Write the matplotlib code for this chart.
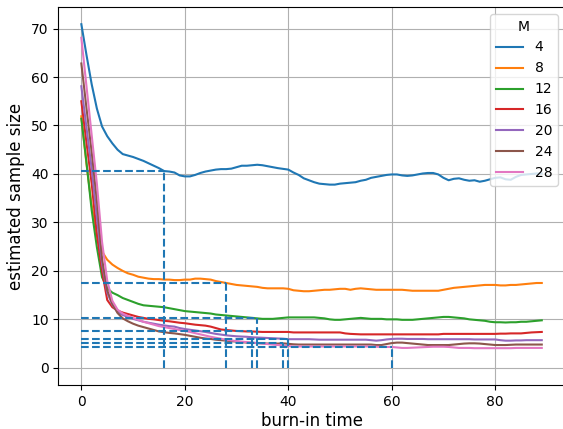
import matplotlib
matplotlib.use("Agg")
import matplotlib.pyplot as plt

# estimated sample size vs. burn-in time, one curve per M
burn_in = list(range(90))
M_values = [4, 8, 12, 16, 20, 24, 28]

ess_m4 = [70.9, 64.5, 58.5, 53.5, 49.8, 47.8, 46.3, 45.0, 44.1, 43.8,
          43.5, 43.1, 42.7, 42.2, 41.7, 41.2, 40.6, 40.5, 40.3, 39.7,
          39.5, 39.5, 39.8, 40.2, 40.5, 40.7, 40.9, 41.0, 41.0, 41.1,
          41.4, 41.7, 41.7, 41.8, 41.9, 41.8, 41.6, 41.4, 41.2, 41.05,
          40.9, 40.3, 39.8, 39.1, 38.7, 38.3, 38.0, 37.9, 37.8, 37.8,
          38.0, 38.1, 38.2, 38.3, 38.6, 38.8, 39.2, 39.4, 39.6, 39.8,
          39.9, 39.9, 39.7, 39.6, 39.7, 39.9, 40.1, 40.2, 40.2, 39.9,
          39.2, 38.7, 39.0, 39.1, 38.8, 38.6, 38.7, 38.4, 38.6, 38.9,
          39.2, 39.3, 38.9, 38.8, 39.4, 39.8, 39.9, 40.0, 40.1, 40.1]
ess_m8 = [51.9, 42.0, 33.5, 27.5, 24.0, 22.3, 21.3, 20.6, 20.0, 19.5,
          19.2, 18.8, 18.6, 18.4, 18.3, 18.3, 18.2, 18.2, 18.1, 18.1,
          18.2, 18.2, 18.4, 18.4, 18.3, 18.2, 17.9, 17.7, 17.5, 17.3,
          17.1, 17.0, 16.9, 16.8, 16.7, 16.5, 16.4, 16.4, 16.4, 16.4,
          16.3, 16.0, 15.9, 15.8, 15.8, 15.9, 16.0, 16.1, 16.1, 16.2,
          16.3, 16.3, 16.1, 16.3, 16.4, 16.3, 16.2, 16.1, 16.1, 16.1,
          16.1, 16.1, 16.1, 16.0, 15.9, 15.9, 15.9, 15.9, 15.9, 15.9,
          16.1, 16.3, 16.5, 16.6, 16.7, 16.8, 16.9, 17.0, 17.1, 17.1,
          17.1, 17.0, 17.0, 17.1, 17.1, 17.2, 17.3, 17.4, 17.5, 17.5]
ess_m12 = [51.4, 42.3, 32.5, 24.9, 18.7, 16.4, 15.5, 15.0, 14.4, 14.0,
           13.6, 13.2, 12.9, 12.8, 12.7, 12.6, 12.5, 12.3, 12.1, 11.9,
           11.7, 11.6, 11.5, 11.4, 11.3, 11.2, 11.0, 10.9, 10.8, 10.7,
           10.6, 10.5, 10.4, 10.3, 10.2, 10.1, 10.1, 10.1, 10.2, 10.3,
           10.4, 10.4, 10.4, 10.4, 10.4, 10.4, 10.3, 10.2, 10.0, 9.9,
           9.9, 10.0, 10.1, 10.2, 10.3, 10.2, 10.1, 10.1, 10.1, 10.0,
           10.0, 10.0, 9.9, 9.9, 9.9, 10.0, 10.1, 10.2, 10.3, 10.4,
           10.5, 10.5, 10.4, 10.3, 10.2, 10.0, 9.9, 9.8, 9.7, 9.5,
           9.4, 9.4, 9.35, 9.4, 9.4, 9.5, 9.5, 9.6, 9.7, 9.8]
ess_m16 = [55.0, 46.4, 38.0, 27.5, 20.0, 14.0, 12.5, 11.8, 11.4, 11.1,
           10.8, 10.5, 10.3, 10.1, 10.0, 9.85, 9.7, 9.6, 9.45, 9.3,
           9.2, 9.05, 8.9, 8.8, 8.7, 8.5, 8.2, 7.9, 7.8, 7.7,
           7.6, 7.55, 7.5, 7.5, 7.45, 7.4, 7.4, 7.4, 7.4, 7.4,
           7.4, 7.3, 7.3, 7.3, 7.3, 7.3, 7.3, 7.3, 7.3, 7.3,
           7.3, 7.1, 7.0, 6.95, 6.9, 6.9, 6.9, 6.9, 6.9, 6.9,
           6.9, 6.9, 6.9, 6.9, 6.9, 6.9, 6.9, 6.9, 6.9, 6.9,
           7.0, 7.0, 7.0, 7.0, 7.0, 7.0, 7.0, 7.0, 7.0, 7.0,
           7.0, 7.05, 7.05, 7.1, 7.1, 7.1, 7.2, 7.3, 7.35, 7.4]
ess_m20 = [58.1, 49.5, 41.0, 31.0, 21.5, 15.5, 13.0, 11.5, 10.9, 10.5,
           10.1, 9.8, 9.5, 9.3, 9.1, 8.9, 8.75, 8.6, 8.5, 8.2,
           8.0, 7.85, 7.7, 7.55, 7.4, 7.2, 7.0, 6.85, 6.7, 6.6,
           6.5, 6.45, 6.4, 6.3, 6.25, 6.2, 6.15, 6.1, 6.05, 6.0,
           5.9, 5.9, 5.9, 5.9, 5.9, 5.85, 5.8, 5.8, 5.8, 5.8,
           5.8, 5.8, 5.8, 5.8, 5.8, 5.8, 5.7, 5.6, 5.7, 5.85,
           5.95, 6.0, 6.0, 5.95, 5.95, 5.95, 5.95, 5.9, 5.9, 5.9,
           5.9, 5.9, 5.9, 5.9, 5.9, 5.9, 5.85, 5.85, 5.85, 5.85,
           5.85, 5.7, 5.6, 5.6, 5.65, 5.65, 5.7, 5.7, 5.7, 5.7]
ess_m24 = [62.8, 53.5, 44.5, 34.5, 22.5, 16.0, 13.2, 11.3, 10.2, 9.6,
           9.1, 8.7, 8.4, 8.1, 7.8, 7.5, 7.35, 7.2, 7.1, 6.95,
           6.8, 6.6, 6.4, 6.2, 6.05, 5.95, 5.8, 5.7, 5.6, 5.5,
           5.4, 5.3, 5.2, 5.15, 5.1, 5.05, 5.0, 5.0, 5.0, 5.05,
           4.95, 4.85, 4.8, 4.8, 4.8, 4.8, 4.8, 4.8, 4.8, 4.8,
           4.8, 4.8, 4.8, 4.8, 4.8, 4.8, 4.8, 4.7, 4.7, 4.9,
           5.1, 5.2, 5.2, 5.1, 5.0, 4.9, 4.8, 4.7, 4.7, 4.7,
           4.7, 4.7, 4.8, 4.9, 5.0, 5.05, 5.05, 5.0, 4.9, 4.8,
           4.7, 4.7, 4.7, 4.75, 4.8, 4.8, 4.8, 4.8, 4.8, 4.8]
ess_m28 = [68.1, 58.0, 48.0, 38.0, 26.0, 18.0, 13.8, 12.0, 11.2, 10.7,
           10.3, 9.9, 9.5, 9.2, 8.9, 8.6, 8.4, 8.2, 8.0, 7.8,
           7.6, 7.4, 7.15, 6.9, 6.65, 6.4, 6.2, 6.0, 5.8, 5.65,
           5.5, 5.4, 5.3, 5.2, 5.1, 5.0, 4.9, 4.8, 4.7, 4.6,
           4.5, 4.4, 4.4, 4.4, 4.4, 4.4, 4.4, 4.4, 4.4, 4.4,
           4.4, 4.4, 4.4, 4.4, 4.4, 4.4, 4.4, 4.35, 4.3, 4.3,
           4.3, 4.2, 4.1, 4.1, 4.15, 4.2, 4.25, 4.3, 4.35, 4.35,
           4.35, 4.3, 4.2, 4.1, 4.1, 4.1, 4.05, 4.05, 4.05, 4.05,
           4.05, 4.05, 4.05, 4.05, 4.1, 4.1, 4.1, 4.1, 4.1, 4.1]

ess_curves = [ess_m4, ess_m8, ess_m12, ess_m16, ess_m20, ess_m24, ess_m28]

# chosen burn-in time for each M
chosen_burn_in = [16, 28, 34, 33, 40, 39, 60]

fig = plt.figure(figsize=(5.63, 4.29), dpi=100)
ax = fig.add_axes([0.1036, 0.1026, 0.8996, 0.881])

for m, ess in zip(M_values, ess_curves):
    ax.plot(burn_in, ess, label=str(m))

for t, ess in zip(chosen_burn_in, ess_curves):
    ax.plot([0, t], [ess[t], ess[t]], '--', color='C0')
    ax.plot([t, t], [0, ess[t]], '--', color='C0')

ax.set_xlabel('burn-in time', fontsize=12, labelpad=2.5)
ax.set_ylabel('estimated sample size', fontsize=12)
ax.spines['right'].set_visible(False)
ax.grid(True)
ax.legend(title='M', loc='upper right')

fig.savefig('out.png', dpi=100)
